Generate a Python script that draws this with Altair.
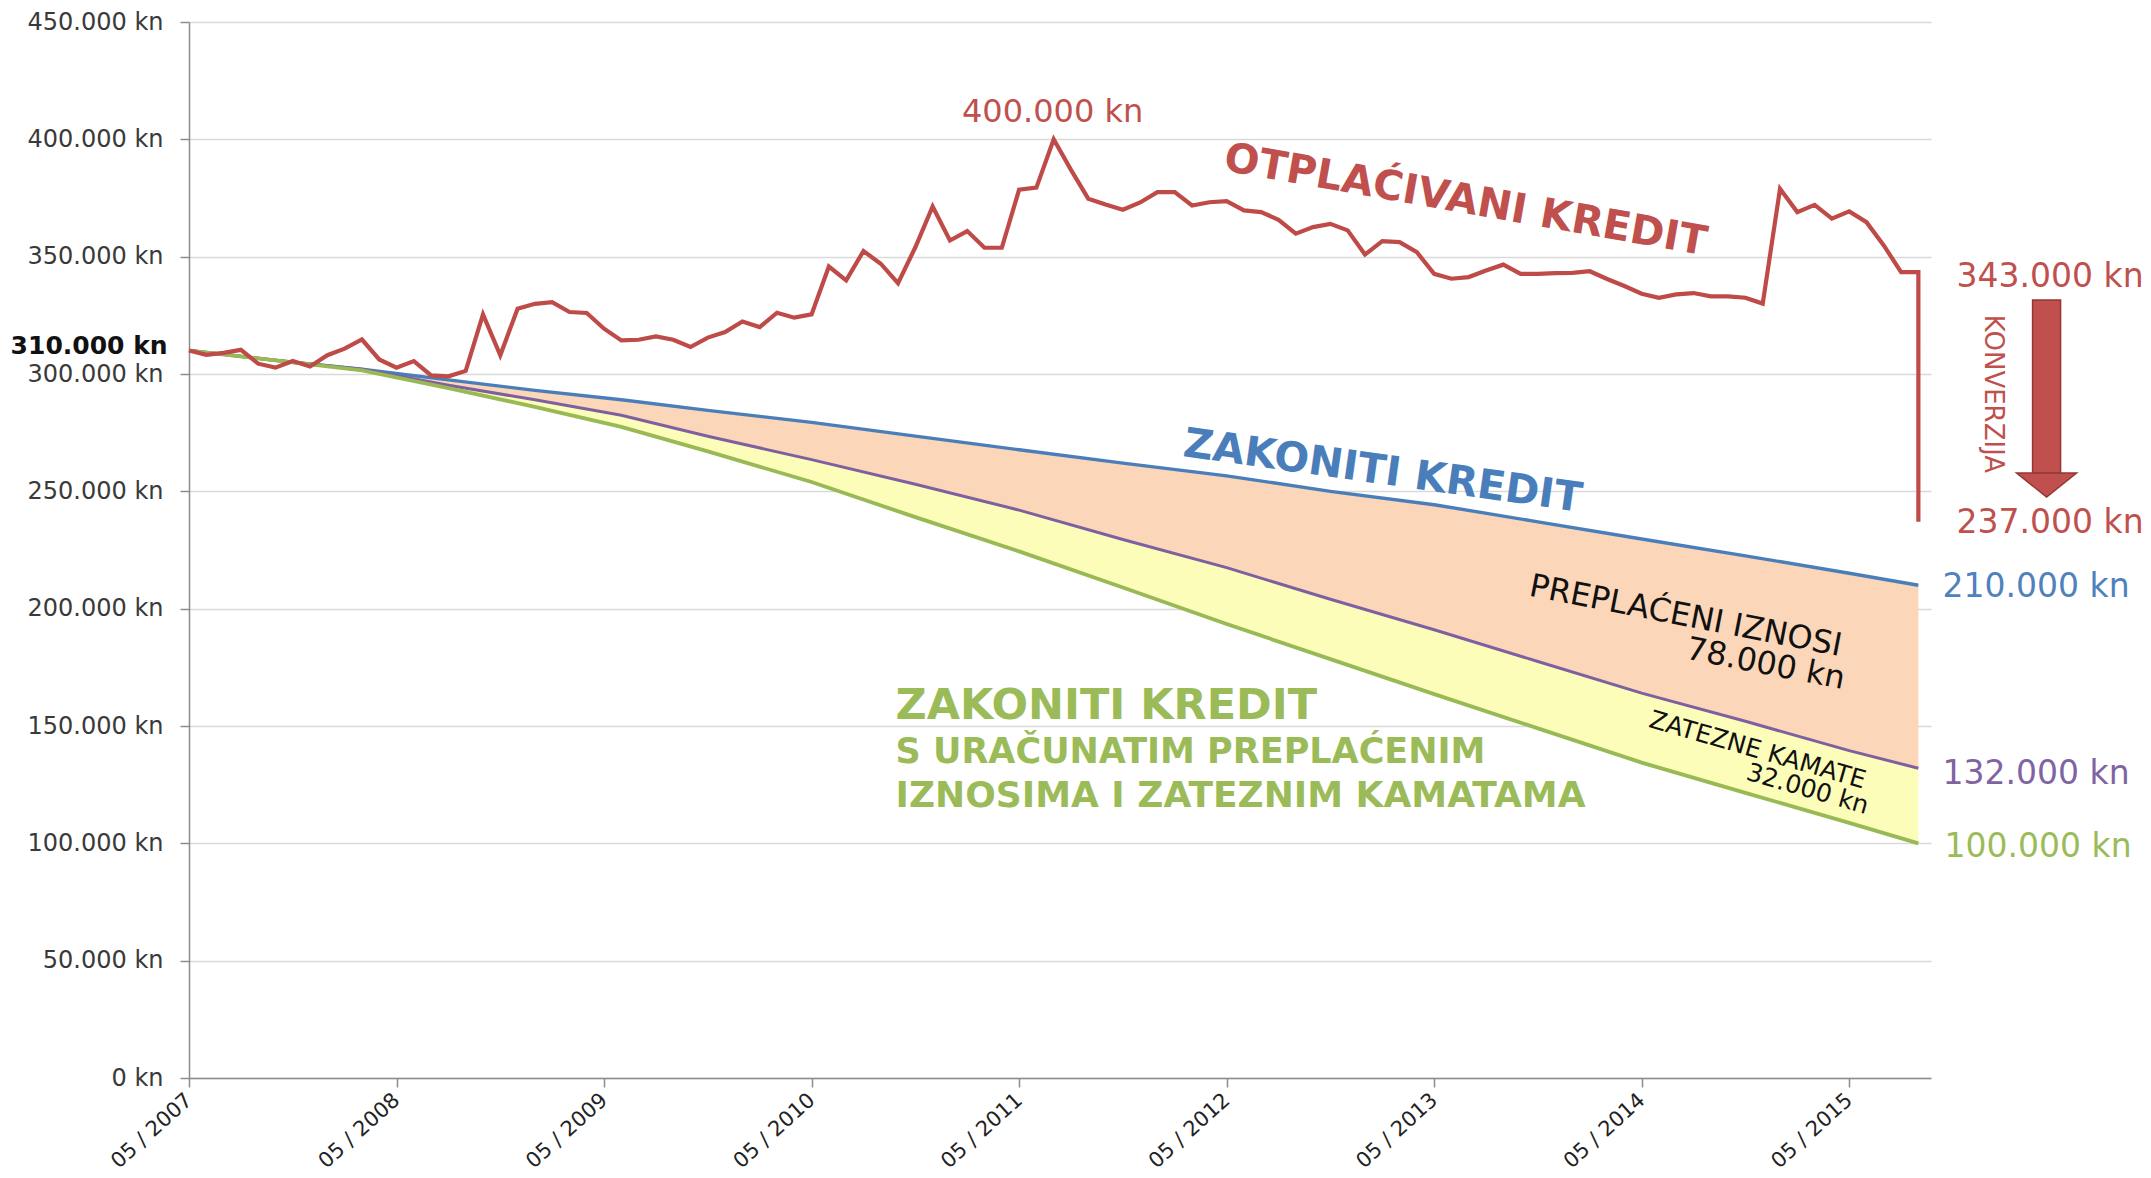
import altair as alt
import pandas as pd

FONT = "DejaVu Sans"

# ---------------- data (months since 05/2007, values in kn) ----------------
red_month = list(range(0, 101)) + [100]
red_value_k = [310.0, 308.2, 309.0, 310.3, 304.4, 302.7, 305.5, 303.2, 308.0, 310.8,
               314.7, 306.2, 302.7, 305.5, 299.4, 299.0, 301.3, 325.4, 308.0, 327.8,
               329.9, 330.6, 326.4, 326.0, 319.3, 314.3, 314.6, 316.0, 314.6, 311.5,
               315.5, 317.9, 322.4, 320.0, 326.1, 324.0, 325.4, 345.8, 339.9, 352.4,
               347.0, 338.7, 354.0, 371.4, 356.9, 360.9, 353.8, 353.8, 378.5, 379.4,
               400.0, 387.0, 374.7, 372.2, 370.0, 373.1, 377.5, 377.5, 371.8, 373.2,
               373.7, 369.7, 369.0, 365.7, 359.8, 362.6, 364.0, 361.2, 350.9, 356.6,
               356.2, 351.9, 342.7, 340.6, 341.3, 344.1, 346.6, 342.7, 342.7, 343.0,
               343.1, 343.8, 340.5, 337.5, 334.2, 332.5, 333.9, 334.5, 333.1, 333.1,
               332.5, 330.0, 378.9, 369.0, 372.1, 366.2, 369.3, 364.7, 354.8, 343.4,
               343.4, 237.0]

low_month = [0, 6, 10, 15, 20, 25, 30, 36, 42, 48, 54, 60, 66, 72, 78, 84, 90, 96, 100]
blue_k = [310.0, 305.0, 302.0, 297.5, 293.0, 289.0, 284.5, 279.4, 273.5, 267.7,
          262.0, 256.6, 250.0, 244.3, 237.0, 229.7, 222.5, 215.1, 210.0]
purple_k = [310.0, 305.0, 302.0, 295.2, 289.0, 282.4, 273.5, 263.5, 253.0, 242.0,
            229.5, 217.5, 204.0, 191.0, 177.5, 164.0, 152.0, 139.5, 132.0]
green_k = [310.0, 305.0, 301.5, 294.0, 286.0, 277.5, 267.0, 254.0, 239.0, 224.4,
           209.0, 193.5, 178.5, 163.6, 149.0, 134.4, 121.5, 108.7, 100.0]

x_tick_values = list(range(0, 97, 12))
y_tick_values = list(range(0, 450001, 50000))

# ---------------- colours ----------------
RED = "#BE4B48"
RED_TXT = "#C0504D"
BLUE = "#4A7EBB"
PURPLE = "#7D60A0"
GREEN = "#98B954"
GREEN_TXT = "#9BBB59"
ORANGE_FILL = "#FCD6B8"
YELLOW_FILL = "#FDFDBA"

# ---------------- frames ----------------
red_df = pd.DataFrame({"m": red_month, "v": [v * 1000 for v in red_value_k],
                       "idx": list(range(len(red_month)))})
band_df = pd.DataFrame({"m": low_month,
                        "blue": [v * 1000 for v in blue_k],
                        "purple": [v * 1000 for v in purple_k],
                        "green": [v * 1000 for v in green_k]})

x_scale = alt.Scale(domain=[0, 100.73], nice=False, zero=False)
y_scale = alt.Scale(domain=[0, 450000], nice=False)

x_axis = alt.Axis(values=x_tick_values,
                  labelExpr="'05 / ' + (2007 + datum.value / 12)",
                  labelAngle=-42, labelAlign="right", labelBaseline="middle",
                  labelFont=FONT, labelFontSize=21, labelColor="#222222",
                  labelPadding=10, labelOverlap=False, labelFlush=False,
                  tickSize=9, tickColor="#8C8C8C", tickWidth=1.5,
                  domainColor="#8C8C8C", domainWidth=1.5, grid=False, title=None)
y_axis = alt.Axis(values=y_tick_values,
                  labelExpr="datum.value == 0 ? '0 kn' : format(datum.value / 1000, 'd') + '.000 kn'",
                  labelFont=FONT, labelFontSize=24, labelColor="#3A3A3A",
                  labelPadding=17, labelOverlap=False, labelFlush=False,
                  tickSize=9, tickColor="#8C8C8C", tickWidth=1.5,
                  domainColor="#8C8C8C", domainWidth=1.5,
                  grid=True, gridColor="#D9D9D9", gridWidth=1.5, title=None)


def X(field="m"):
    return alt.X(field, type="quantitative", scale=x_scale, axis=x_axis)


def Y(field="v"):
    return alt.Y(field, type="quantitative", scale=y_scale, axis=y_axis)


layers = []

# bands
layers.append(alt.Chart(band_df).mark_area(color=ORANGE_FILL, opacity=1).encode(
    x=X(), y=Y("blue"), y2=alt.Y2("purple")))
layers.append(alt.Chart(band_df).mark_area(color=YELLOW_FILL, opacity=1).encode(
    x=X(), y=Y("purple"), y2=alt.Y2("green")))

# lower lines
for col, colr, w in [("blue", BLUE, 3.4), ("purple", PURPLE, 3.0), ("green", GREEN, 3.8)]:
    layers.append(alt.Chart(band_df).mark_line(color=colr, strokeWidth=w).encode(
        x=X(), y=Y(col)))

# red line
layers.append(alt.Chart(red_df).mark_line(color=RED, strokeWidth=4.2).encode(
    x=X(), y=Y(), order=alt.Order("idx:Q")))


# ---------------- annotations ----------------
def px_m(px):
    return (px - 189.4) / 17.294


def px_v(py):
    return (1078 - py) * 450000 / 1056


def label(text, px, py, size, color, angle=0, weight="normal", align="center"):
    df = pd.DataFrame({"m": [px_m(px)], "v": [px_v(py)], "t": [text]})
    props = dict(font=FONT, fontSize=size, fontWeight=weight, color=color,
                 align=align, baseline="middle")
    if angle:
        props["angle"] = angle
    return alt.Chart(df).mark_text(**props).encode(x=X(), y=Y(), text="t:N")


layers += [
    label("310.000 kn", 168, 346, 25, "#111111", weight="bold", align="right"),
    label("400.000 kn", 1053, 112, 32, RED_TXT),
    label("OTPLAĆIVANI KREDIT", 1466, 201, 41, RED_TXT, angle=10, weight="bold"),
    label("ZAKONITI KREDIT", 1383, 472, 41, BLUE, angle=8, weight="bold"),
    label("PREPLAĆENI IZNOSI", 1686, 616, 32, "#111111", angle=11),
    label("78.000 kn", 1766, 664, 32, "#111111", angle=11),
    label("ZATEZNE KAMATE", 1758, 750, 25, "#111111", angle=16),
    label("32.000 kn", 1808, 789, 25, "#111111", angle=16),
    label("ZAKONITI KREDIT", 896, 706, 43, GREEN_TXT, weight="bold", align="left"),
    label("S URAČUNATIM PREPLAĆENIM", 896, 752, 35, GREEN_TXT, weight="bold", align="left"),
    label("IZNOSIMA I ZATEZNIM KAMATAMA", 896, 796, 36, GREEN_TXT, weight="bold", align="left"),
    label("343.000 kn", 1957, 277, 33, RED_TXT, align="left"),
    label("237.000 kn", 1957, 523, 33, RED_TXT, align="left"),
    label("210.000 kn", 1943, 587, 33, "#4F81BD", align="left"),
    label("132.000 kn", 1943, 774, 33, "#8064A2", align="left"),
    label("100.000 kn", 1945, 847, 33, GREEN_TXT, align="left"),
    label("KONVERZIJA", 1993, 394, 26, RED_TXT, angle=90),
]

# conversion arrow
shaft_df = pd.DataFrame({"m": [px_m(2033)], "m2": [px_m(2061)],
                         "v": [px_v(300)], "v2": [px_v(474)]})
layers.append(alt.Chart(shaft_df).mark_rect(color=RED_TXT, stroke="#943634", strokeWidth=1.5).encode(
    x=X(), x2=alt.X2("m2"), y=Y(), y2=alt.Y2("v2")))
head_df = pd.DataFrame({"m": [px_m(2047)], "v": [px_v(485)]})
layers.append(alt.Chart(head_df).mark_point(
    shape="M-1,-0.4L1,-0.4L0,0.4Z", size=3600, filled=True, opacity=1,
    fill=RED_TXT, stroke="#943634", strokeWidth=1.5).encode(x=X(), y=Y()))

chart = alt.layer(*layers).properties(
    width=1742, height=1056,
    autosize=alt.AutoSizeParams(type="none"),
    padding={"left": 189, "top": 22, "right": 220, "bottom": 100},
    background="white",
).configure_view(stroke=None)

chart.save("out.html", embed_options={"renderer": "svg", "actions": False})
